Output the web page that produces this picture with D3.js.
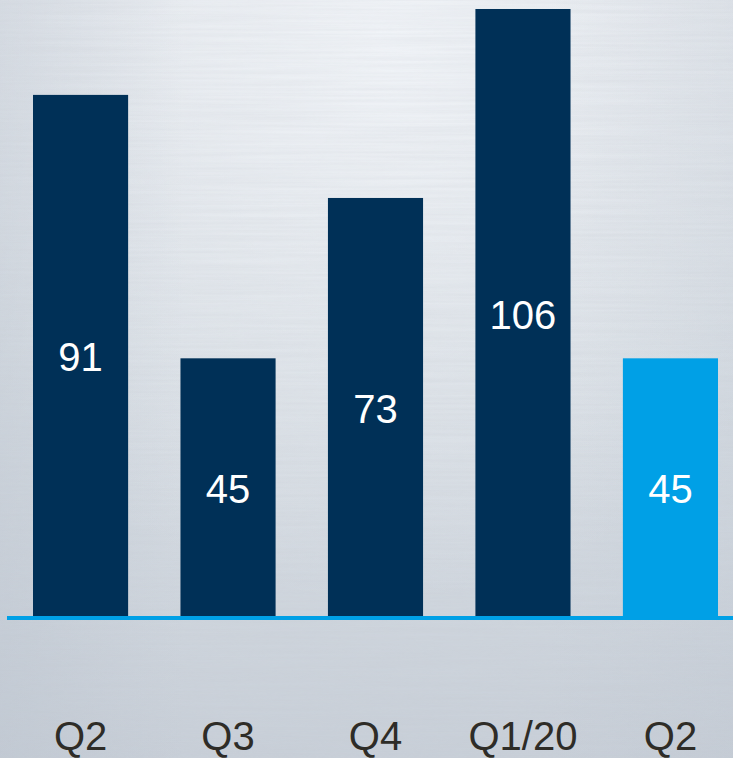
<!DOCTYPE html>
<html>
<head>
<meta charset="utf-8">
<script src="https://cdn.jsdelivr.net/npm/d3@7"></script>
<style>
  html, body { margin: 0; padding: 0; background: #dfe4e9; overflow: hidden; }
  svg { display: block; }
</style>
</head>
<body>
<script>
// ---- data ----
const categories = ["Q2", "Q3", "Q4", "Q1/20", "Q2"];
const values = [91, 45, 73, 106, 45];
const highlight = [false, false, false, false, true];

const W = 733, H = 758;
const baseY = 616;

const svg = d3.select("body").append("svg")
  .attr("width", W).attr("height", H);

const defs = svg.append("defs");

// background gradients
const lg = defs.append("linearGradient").attr("id", "bgv")
  .attr("x1", 0).attr("y1", 0).attr("x2", 0).attr("y2", 1);
lg.append("stop").attr("offset", "0%").attr("stop-color", "#e6eaef");
lg.append("stop").attr("offset", "45%").attr("stop-color", "#dae0e6");
lg.append("stop").attr("offset", "100%").attr("stop-color", "#c8cfd8");

const rg = defs.append("radialGradient").attr("id", "bgr")
  .attr("cx", 0.52).attr("cy", 0.05).attr("r", 0.75)
  .attr("gradientTransform", "translate(0.52,0.05) scale(0.9,1.0) translate(-0.52,-0.05)");
rg.append("stop").attr("offset", "0%").attr("stop-color", "#f1f4f8").attr("stop-opacity", 0.95);
rg.append("stop").attr("offset", "55%").attr("stop-color", "#edf0f4").attr("stop-opacity", 0.35);
rg.append("stop").attr("offset", "100%").attr("stop-color", "#edf0f4").attr("stop-opacity", 0);

const sg = defs.append("linearGradient").attr("id", "bgs")
  .attr("x1", 0).attr("y1", 0).attr("x2", 1).attr("y2", 0);
sg.append("stop").attr("offset", "0%").attr("stop-color", "#b6bfcb").attr("stop-opacity", 0.35);
sg.append("stop").attr("offset", "25%").attr("stop-color", "#b6bfcb").attr("stop-opacity", 0.0);
sg.append("stop").attr("offset", "75%").attr("stop-color", "#b6bfcb").attr("stop-opacity", 0.0);
sg.append("stop").attr("offset", "100%").attr("stop-color", "#b6bfcb").attr("stop-opacity", 0.2);

// brushed streaks
const f = defs.append("filter").attr("id", "brush")
  .attr("x", 0).attr("y", 0).attr("width", 1).attr("height", 1);
f.append("feTurbulence").attr("type", "fractalNoise")
  .attr("baseFrequency", "0.006 0.35").attr("numOctaves", 2).attr("seed", 3)
  .attr("result", "n");
f.append("feColorMatrix").attr("in", "n").attr("type", "matrix")
  .attr("values", "0 0 0 0 0.55  0 0 0 0 0.58  0 0 0 0 0.63  0 0 0 0.4 -0.08");

svg.append("rect").attr("width", W).attr("height", H).attr("fill", "url(#bgv)");
svg.append("rect").attr("width", W).attr("height", H).attr("fill", "url(#bgr)");
svg.append("rect").attr("width", W).attr("height", H).attr("fill", "url(#bgs)");
svg.append("rect").attr("width", W).attr("height", H).attr("fill", "#fff")
  .attr("filter", "url(#brush)").attr("opacity", 0.7);

// ---- scales ----
const x = d3.scaleBand()
  .domain(d3.range(categories.length))
  .range([33, 718])
  .paddingInner(0.355)
  .paddingOuter(0);

const y = d3.scaleLinear()
  .domain([0, 106])
  .range([baseY, 9]);

const navy = "#003057";
const bright = "#00a0e6";

// bars
svg.append("g").selectAll("rect")
  .data(values)
  .join("rect")
  .attr("x", (d, i) => x(i))
  .attr("width", x.bandwidth())
  .attr("y", d => y(d))
  .attr("height", d => y(0) - y(d))
  .attr("fill", (d, i) => highlight[i] ? bright : navy);

// value labels
svg.append("g").selectAll("text")
  .data(values)
  .join("text")
  .attr("x", (d, i) => x(i) + x.bandwidth() / 2)
  .attr("y", d => (y(d) + y(0)) / 2 + 16)
  .attr("text-anchor", "middle")
  .attr("font-family", "Liberation Sans, Arial, sans-serif")
  .attr("font-size", 40)
  .attr("fill", "#ffffff")
  .text(d => d);

// baseline
svg.append("line")
  .attr("x1", 7).attr("x2", W)
  .attr("y1", baseY + 2).attr("y2", baseY + 2)
  .attr("stroke", bright).attr("stroke-width", 4);

// category axis labels
const xAxis = d3.axisBottom(x).tickSize(0).tickPadding(0)
  .tickFormat(i => categories[i]);
const ax = svg.append("g")
  .attr("transform", `translate(0, 750)`)
  .call(xAxis);
ax.select(".domain").remove();
ax.selectAll("text")
  .attr("dy", 0)
  .attr("y", 0)
  .attr("font-family", "Liberation Sans, Arial, sans-serif")
  .attr("font-size", 40)
  .attr("fill", "#2e2c27");
</script>
</body>
</html>
